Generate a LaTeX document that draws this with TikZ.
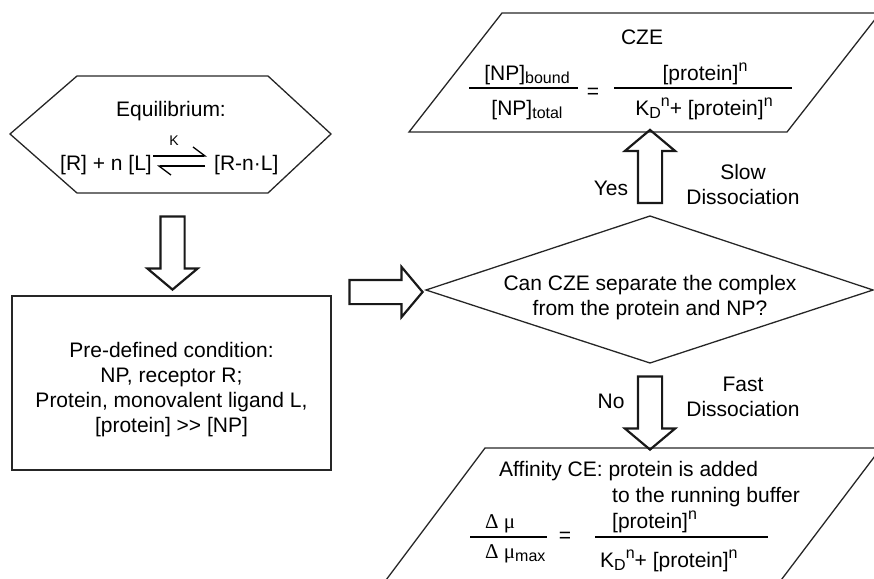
\documentclass[tikz,border=0pt]{standalone}
\usepackage{fontspec}
\setmainfont{Liberation Sans}
\newfontfamily\greekfont{Liberation Serif}
\usetikzlibrary{shapes.arrows,arrows.meta}

\newcommand\lowtxt[1]{\raisebox{-0.35ex}{\fontsize{16}{16}\selectfont #1}}
\newcommand\hightxt[1]{\raisebox{0.75ex}{\fontsize{16}{16}\selectfont #1}}

\begin{document}
\begin{tikzpicture}[x=1pt,y=-1pt,
  shapeline/.style={draw=black!85, line width=1.3pt},
  fatarrow/.style={single arrow, draw=black!90, line width=2.2pt, inner xsep=0pt,
    inner ysep=11pt, single arrow head extend=13pt, single arrow tip angle=100,
    minimum height=73pt},
  txt/.style={font=\fontsize{21}{25}\selectfont, inner sep=0pt, align=center},
  smalltxt/.style={font=\fontsize{14}{16}\selectfont, inner sep=0pt},
  harp/.style={line width=1.3pt, -{Straight Barb[harpoon, length=12pt, width=18pt]}}]
  \useasboundingbox (0,0) rectangle (874,578);
  \clip (0,0) rectangle (874,578);

  % outlines of the boxes
  \draw[shapeline] (10,134) -- (77,76) -- (268,76) -- (331,134) -- (268,193) -- (77,193) -- cycle;
  \draw[shapeline] (12,296) rectangle (331,470);
  \draw[shapeline] (426,290) -- (650,216) -- (873,290) -- (650,363) -- cycle;
  \draw[shapeline] (502,13) -- (880,13) -- (787,132) -- (409,132) -- cycle;
  \draw[shapeline] (485,448) -- (881,448) -- (766,600) -- (371,600) -- cycle;

  % equilibrium
  \node[txt, anchor=base] (eqtitle) at (171,116) {Equilibrium:};
  \node[txt, anchor=base east] (lhs) at (152,170) {[R] + n [L]};
  \node[txt, anchor=base west] (rhs) at (214,170) {[R-n{\textperiodcentered}L]};
  \node[smalltxt, anchor=base] (kconst) at (174,145) {K};
  \draw[harp] ([xshift=1pt,yshift=14pt]lhs.base east) -- ([xshift=-7pt,yshift=14pt]rhs.base west);
  \draw[harp] ([xshift=-9pt,yshift=4pt]rhs.base west) -- ([xshift=5pt,yshift=4pt]lhs.base east);

  % conditions
  \node[txt] (cond) at (171.5,390) {Pre-defined condition:\\NP, receptor R;\\
    Protein, monovalent ligand L,\\{[protein] {>}{>} [NP]}};

  % decision
  \node[txt] (ask) at (650,298) {Can CZE separate the complex\\from the protein and NP?};

  % big arrows
  \node[fatarrow, rotate=-90] (downarr) at (172.5,248) {};
  \node[fatarrow] (rightarr) at (381,292) {};
  \node[fatarrow, rotate=90] (yesarr) at (650,171.5) {};
  \node[fatarrow, rotate=-90] (noarr) at (650,408) {};

  \node[txt, anchor=base] (yes) at (611,195) {Yes};
  \node[txt] (slow) at (743,184) {Slow\\Dissociation};
  \node[txt, anchor=base] (no) at (611,408) {No};
  \node[txt] (fast) at (743,397) {Fast\\Dissociation};

  % CZE
  \node[txt, anchor=base] (cze) at (642,45) {CZE};
  \node[txt, anchor=base] (numa) at (527,80) {[NP]\lowtxt{bound}};
  \node[txt, anchor=base] (dena) at (527,115) {[NP]\lowtxt{total}};
  \draw[line width=1.3pt] (469,88) -- (578,88);
  \node[txt] (eqa) at (593,93) {=};
  \node[txt, anchor=base] (numb) at (705,80) {[protein]\hightxt{n}};
  \node[txt, anchor=base] (denb) at (704,115) {K\lowtxt{D}\hightxt{n}+ [protein]\hightxt{n}};
  \draw[line width=1.3pt] (614,88) -- (792,88);

  % affinity CE
  \node[txt, anchor=base west] (aff) at (499,476) {Affinity CE: protein is added};
  \node[txt, anchor=base west] (affb) at (612,502) {to the running buffer};
  \node[txt, anchor=base west] (dmu) at (485,528) {\greekfont Δ μ};
  \node[txt, anchor=base west] (dmumax) at (485,558) {{\greekfont Δ μ}\lowtxt{max}};
  \draw[line width=1.3pt] (470,537) -- (547,537);
  \node[txt] (eqc) at (565,537) {=};
  \node[txt, anchor=base west] (numc) at (612,528) {[protein]\hightxt{n}};
  \node[txt, anchor=base west] (denc) at (600,567) {K\lowtxt{D}\hightxt{n}+ [protein]\hightxt{n}};
  \draw[line width=1.3pt] (595,537) -- (768,537);
\end{tikzpicture}
\end{document}
